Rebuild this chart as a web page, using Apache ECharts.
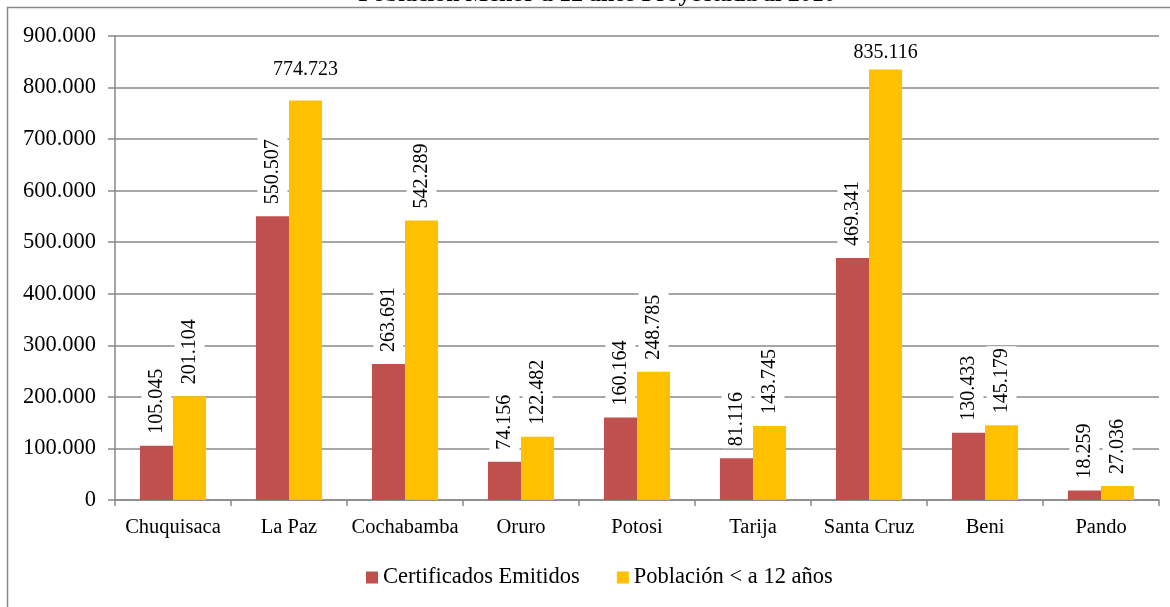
<!DOCTYPE html>
<html lang="es">
<head>
    <meta charset="UTF-8">
    <title>Certificados vs Poblacion</title>
    <script type="text/javascript" src="https://cdn.jsdelivr.net/npm/echarts@6/dist/echarts.min.js"></script>
    <style>
        html, body { margin: 0; padding: 0; background: #fff; }
    </style>
</head>
<body>
    <div id="main" style="width: 1170px; height: 607px"></div>
    <script type="text/javascript">
        // datos por departamento
        var departamentos = ['Chuquisaca', 'La Paz', 'Cochabamba', 'Oruro', 'Potosi', 'Tarija', 'Santa Cruz', 'Beni', 'Pando'];
        var certificados = [105045, 550507, 263691, 74156, 160164, 81116, 469341, 130433, 18259];
        var poblacion = [201104, 774723, 542289, 122482, 248785, 143745, 835116, 145179, 27036];
        var tituloTexto = 'Población Menor a 12 años Proyectada al 2010';
        // etiquetas que van horizontales (no caben giradas)
        var etiquetasHorizontales = ['La Paz', 'Santa Cruz'];

        var serif = 'Liberation Serif, Times New Roman, serif';
        var gris = '#898989';

        function puntos(v) {
            return String(v).replace(/\B(?=(\d{3})+(?!\d))/g, '.');
        }

        var etiqueta = {
            show: true,
            position: 'top',
            rotate: 90,
            align: 'left',
            verticalAlign: 'middle',
            distance: 10,
            fontFamily: serif,
            fontSize: 20,
            color: '#000',
            backgroundColor: '#fff',
            padding: [5, 2],
            formatter: function (p) { return puntos(p.value); }
        };

        function armar(valores) {
            return valores.map(function (v, i) {
                if (valores === poblacion && etiquetasHorizontales.indexOf(departamentos[i]) >= 0) {
                    return {
                        value: v,
                        label: {
                            rotate: 0, align: 'center', verticalAlign: 'bottom',
                            distance: i === 1 ? 20 : 6, padding: [1, 6]
                        }
                    };
                }
                return v;
            });
        }

        var myChart = echarts.init(document.getElementById('main'));

        option = {
            backgroundColor: '#fff',
            animation: false,
            title: {
                text: tituloTexto,
                left: 592,
                top: -22.5,
                textAlign: 'center',
                textStyle: { fontFamily: serif, fontSize: 24, fontWeight: 'bold', color: '#000' }
            },
            graphic: [{
                type: 'rect',
                shape: { x: 7.5, y: 7.5, width: 1300, height: 700 },
                style: { fill: 'none', stroke: gris, lineWidth: 1.5 },
                silent: true
            }],
            legend: {
                left: 361,
                top: 561,
                icon: 'rect',
                itemWidth: 12,
                itemHeight: 12,
                itemGap: 37,
                textStyle: { fontFamily: serif, fontSize: 22.5, color: '#000' },
                data: ['Certificados Emitidos', 'Población < a 12 años']
            },
            grid: { left: 115, right: 11, top: 36, bottom: 107, containLabel: false },
            xAxis: {
                type: 'category',
                data: departamentos,
                axisLine: { lineStyle: { color: gris, width: 1.5 } },
                axisTick: { show: true, length: 6, lineStyle: { color: gris, width: 1.5 } },
                axisLabel: { interval: 0, fontFamily: serif, fontSize: 20.5, color: '#000', margin: 17 }
            },
            yAxis: {
                type: 'value',
                min: 0,
                max: 900000,
                interval: 100000,
                axisLine: { show: true, lineStyle: { color: gris, width: 1.5 } },
                axisTick: { show: true, length: 7, lineStyle: { color: gris, width: 1.5 } },
                axisLabel: { fontFamily: serif, fontSize: 22.5, color: '#000', margin: 19, formatter: puntos },
                splitLine: { lineStyle: { color: gris, width: 1.5 } }
            },
            series: [
                {
                    name: 'Certificados Emitidos',
                    type: 'bar',
                    data: armar(certificados),
                    itemStyle: { color: '#C0504D' },
                    barGap: 0,
                    barCategoryGap: '43%',
                    label: etiqueta
                },
                {
                    name: 'Población < a 12 años',
                    type: 'bar',
                    data: armar(poblacion),
                    itemStyle: { color: '#FFC000' },
                    barGap: 0,
                    barCategoryGap: '43%',
                    label: etiqueta
                }
            ]
        };

        myChart.setOption(option);
    </script>
</body>
</html>
